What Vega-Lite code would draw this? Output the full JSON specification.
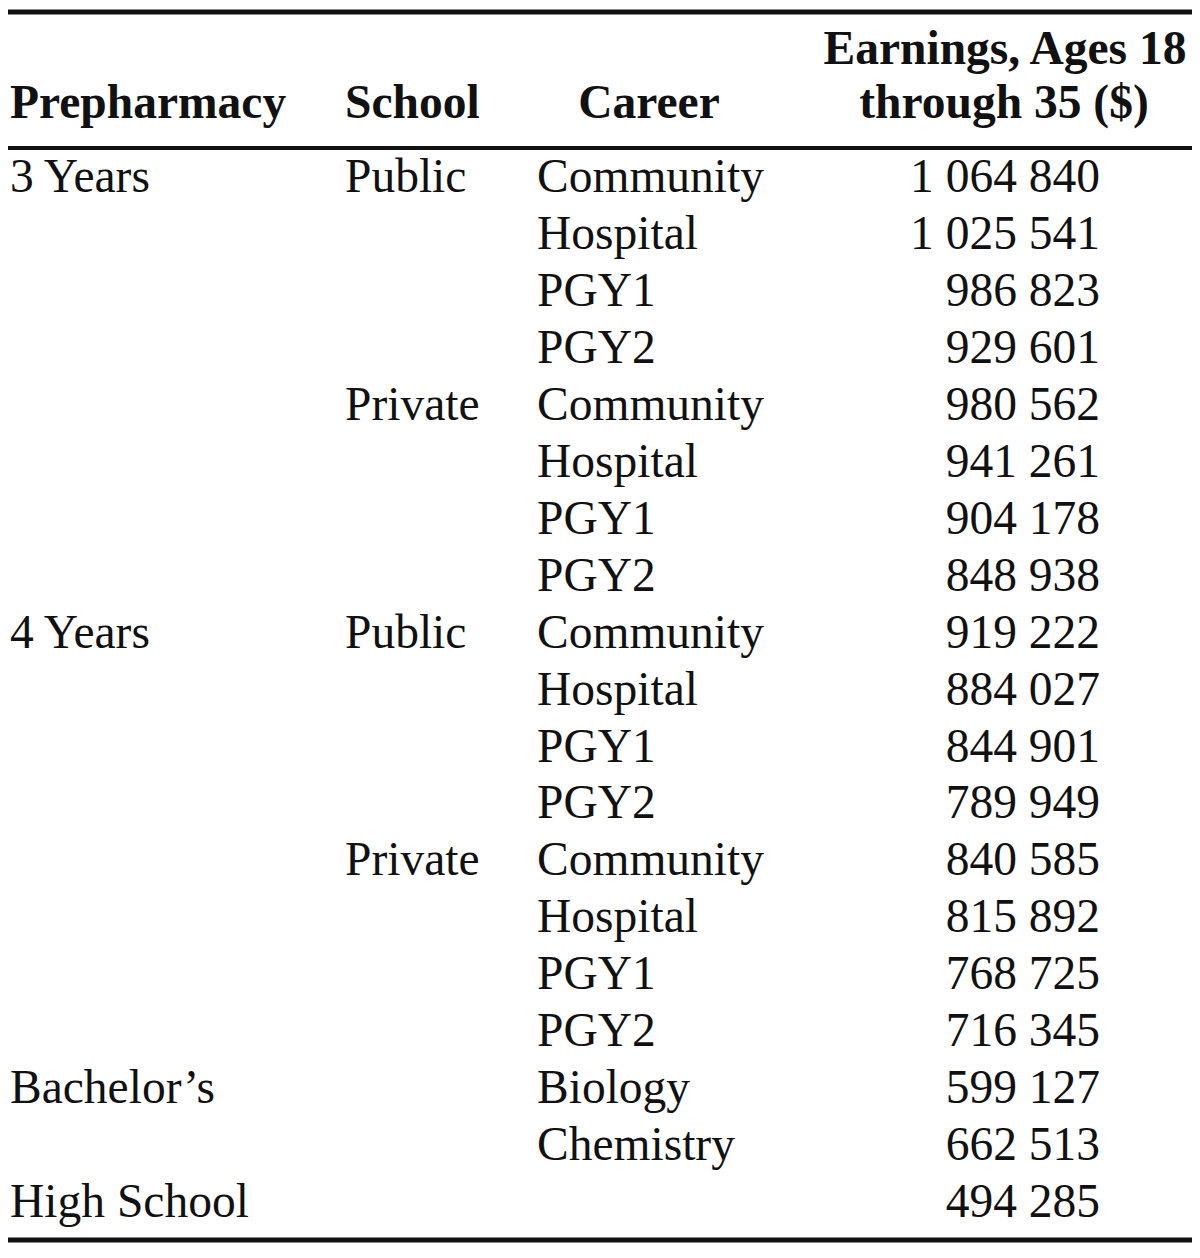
{
  "$schema": "https://vega.github.io/schema/vega-lite/v6.json",
  "width": 1200,
  "height": 1258,
  "autosize": {"type": "fit", "contains": "padding"},
  "padding": 0,
  "background": "white",
  "config": {
    "view": {"stroke": null},
    "locale": {"number": {"decimal": ".", "thousands": " ", "grouping": [3], "currency": ["$", ""]}},
    "text": {"font": "Liberation Serif", "fontSize": 47.5, "color": "#111111", "baseline": "middle"}
  },
  "data": {"values": [
    {"row": 1, "prepharmacy": "3 Years", "school": "Public", "career": "Community", "earnings": 1064840},
    {"row": 2, "prepharmacy": "", "school": "", "career": "Hospital", "earnings": 1025541},
    {"row": 3, "prepharmacy": "", "school": "", "career": "PGY1", "earnings": 986823},
    {"row": 4, "prepharmacy": "", "school": "", "career": "PGY2", "earnings": 929601},
    {"row": 5, "prepharmacy": "", "school": "Private", "career": "Community", "earnings": 980562},
    {"row": 6, "prepharmacy": "", "school": "", "career": "Hospital", "earnings": 941261},
    {"row": 7, "prepharmacy": "", "school": "", "career": "PGY1", "earnings": 904178},
    {"row": 8, "prepharmacy": "", "school": "", "career": "PGY2", "earnings": 848938},
    {"row": 9, "prepharmacy": "4 Years", "school": "Public", "career": "Community", "earnings": 919222},
    {"row": 10, "prepharmacy": "", "school": "", "career": "Hospital", "earnings": 884027},
    {"row": 11, "prepharmacy": "", "school": "", "career": "PGY1", "earnings": 844901},
    {"row": 12, "prepharmacy": "", "school": "", "career": "PGY2", "earnings": 789949},
    {"row": 13, "prepharmacy": "", "school": "Private", "career": "Community", "earnings": 840585},
    {"row": 14, "prepharmacy": "", "school": "", "career": "Hospital", "earnings": 815892},
    {"row": 15, "prepharmacy": "", "school": "", "career": "PGY1", "earnings": 768725},
    {"row": 16, "prepharmacy": "", "school": "", "career": "PGY2", "earnings": 716345},
    {"row": 17, "prepharmacy": "Bachelor’s", "school": "", "career": "Biology", "earnings": 599127},
    {"row": 18, "prepharmacy": "", "school": "", "career": "Chemistry", "earnings": 662513},
    {"row": 19, "prepharmacy": "High School", "school": "", "career": "", "earnings": 494285}
  ]},
  "layer": [
    {
      "data": {"values": [{}]},
      "mark": {"type": "rule", "color": "#111111", "strokeWidth": 5},
      "encoding": {
        "y": {"datum": -1.915, "type": "quantitative", "scale": {"domain": [-2.1256, 19.964], "reverse": true, "nice": false, "zero": false}, "axis": null},
        "x": {"value": 8}, "x2": {"value": 1192}
      }
    },
    {
      "data": {"values": [{}]},
      "mark": {"type": "rule", "color": "#111111", "strokeWidth": 4},
      "encoding": {
        "y": {"datum": 0.473, "type": "quantitative", "scale": {"domain": [-2.1256, 19.964], "reverse": true, "nice": false, "zero": false}, "axis": null},
        "x": {"value": 8}, "x2": {"value": 1192}
      }
    },
    {
      "data": {"values": [{}]},
      "mark": {"type": "rule", "color": "#111111", "strokeWidth": 5},
      "encoding": {
        "y": {"datum": 19.648, "type": "quantitative", "scale": {"domain": [-2.1256, 19.964], "reverse": true, "nice": false, "zero": false}, "axis": null},
        "x": {"value": 8}, "x2": {"value": 1192}
      }
    },
    {
      "data": {"values": [{}]},
      "mark": {"type": "text", "text": "Prepharmacy", "fontWeight": "bold", "align": "left"},
      "encoding": {
        "y": {"datum": -0.299, "type": "quantitative", "scale": {"domain": [-2.1256, 19.964], "reverse": true, "nice": false, "zero": false}, "axis": null},
        "x": {"value": 10}
      }
    },
    {
      "data": {"values": [{}]},
      "mark": {"type": "text", "text": "School", "fontWeight": "bold", "align": "left"},
      "encoding": {
        "y": {"datum": -0.299, "type": "quantitative", "scale": {"domain": [-2.1256, 19.964], "reverse": true, "nice": false, "zero": false}, "axis": null},
        "x": {"value": 345}
      }
    },
    {
      "data": {"values": [{}]},
      "mark": {"type": "text", "text": "Career", "fontWeight": "bold", "align": "center"},
      "encoding": {
        "y": {"datum": -0.299, "type": "quantitative", "scale": {"domain": [-2.1256, 19.964], "reverse": true, "nice": false, "zero": false}, "axis": null},
        "x": {"value": 649}
      }
    },
    {
      "data": {"values": [{}]},
      "mark": {"type": "text", "text": "Earnings, Ages 18", "fontWeight": "bold", "align": "center"},
      "encoding": {
        "y": {"datum": -1.248, "type": "quantitative", "scale": {"domain": [-2.1256, 19.964], "reverse": true, "nice": false, "zero": false}, "axis": null},
        "x": {"value": 1005}
      }
    },
    {
      "data": {"values": [{}]},
      "mark": {"type": "text", "text": "through 35 ($)", "fontWeight": "bold", "align": "center"},
      "encoding": {
        "y": {"datum": -0.299, "type": "quantitative", "scale": {"domain": [-2.1256, 19.964], "reverse": true, "nice": false, "zero": false}, "axis": null},
        "x": {"value": 1004}
      }
    },
    {
      "mark": {"type": "text", "align": "left"},
      "encoding": {
        "y": {"field": "row", "type": "quantitative", "scale": {"domain": [-2.1256, 19.964], "reverse": true, "nice": false, "zero": false}, "axis": null},
        "x": {"value": 10},
        "text": {"field": "prepharmacy", "type": "nominal"}
      }
    },
    {
      "mark": {"type": "text", "align": "left"},
      "encoding": {
        "y": {"field": "row", "type": "quantitative", "scale": {"domain": [-2.1256, 19.964], "reverse": true, "nice": false, "zero": false}, "axis": null},
        "x": {"value": 345},
        "text": {"field": "school", "type": "nominal"}
      }
    },
    {
      "mark": {"type": "text", "align": "left"},
      "encoding": {
        "y": {"field": "row", "type": "quantitative", "scale": {"domain": [-2.1256, 19.964], "reverse": true, "nice": false, "zero": false}, "axis": null},
        "x": {"value": 537},
        "text": {"field": "career", "type": "nominal"}
      }
    },
    {
      "mark": {"type": "text", "align": "right"},
      "encoding": {
        "y": {"field": "row", "type": "quantitative", "scale": {"domain": [-2.1256, 19.964], "reverse": true, "nice": false, "zero": false}, "axis": null},
        "x": {"value": 1100},
        "text": {"field": "earnings", "type": "quantitative", "format": ",d"}
      }
    }
  ]
}
